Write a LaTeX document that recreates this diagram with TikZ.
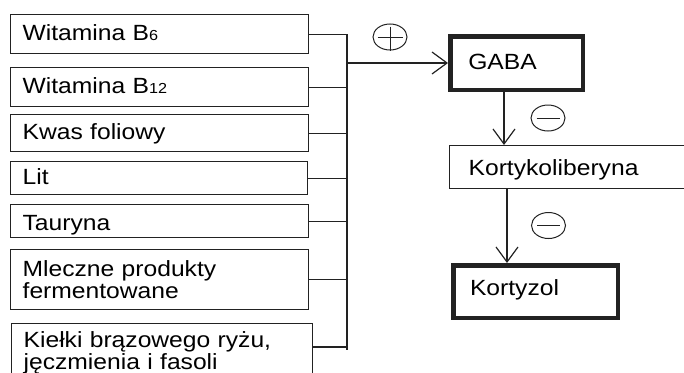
\documentclass[tikz,border=0pt]{standalone}
\usepackage{fontspec}
\setmainfont{Liberation Sans}[FakeStretch=1.12]
\usetikzlibrary{arrows.meta,shapes.geometric}
\newcommand{\boxfont}{\fontsize{22}{22}\selectfont}
\newcommand{\idx}[1]{{\fontsize{14.5}{14.5}\selectfont #1}}
\definecolor{linec}{HTML}{222222}

\begin{document}
\begin{tikzpicture}[x=1pt,y=-1pt,
  frame/.style={draw=linec, line width=1.3pt, anchor=north west, inner ysep=0pt,
                inner xsep=12pt, align=left, font=\boxfont},
  oneline/.style={frame, text height=12pt, text depth=0pt},
  heavy/.style={line width=4.5pt},
  sign/.style={draw=linec, ellipse, line width=1pt, minimum width=34pt,
               minimum height=26pt, inner sep=0pt},
  signbar/.style={draw=linec, line width=1pt},
  flow/.style={draw=linec, line width=1.2pt,
               -{Straight Barb[length=15pt,width=22pt,line width=1.2pt]}},
  wire/.style={draw=linec, line width=1.3pt}]

\useasboundingbox (0,0) rectangle (684,372);
\clip (0,0) rectangle (684,372);

% sources
\node[oneline, text width=274pt, minimum height=39pt] (b1) at (10,14) {Witamina B\idx{6}};
\node[oneline, text width=274pt, minimum height=39pt] (b2) at (10,67) {Witamina B\idx{12}};
\node[oneline, text width=274pt, minimum height=37pt] (b3) at (10,114) {Kwas foliowy};
\node[oneline, text width=273pt, minimum height=33pt] (b4) at (10,161) {Lit};
\node[oneline, text width=274pt, minimum height=33pt, text height=19pt] (b5) at (10,204) {Tauryna};
\node[frame, text width=274pt, minimum height=60pt] (b6) at (10,249) {Mleczne produkty\\fermentowane};
\node[frame, text width=277pt, minimum height=58.7pt] (b7) at (11,323) {Kiełki brązowego ryżu,\\jęczmienia i fasoli};

% chain
\node[oneline, heavy, text width=96.5pt, inner xsep=18pt, minimum height=53.5pt] (gaba) at (448,34) {GABA};
\node[oneline, text width=240pt, inner xsep=19pt, minimum height=43pt, text height=16pt] (korty) at (449,145) {Kortykoliberyna};
\node[oneline, heavy, text width=131pt, inner xsep=16.75pt, minimum height=52.5pt, text height=7pt] (kortyzol) at (451,263) {Kortyzol};

% collecting bus
\coordinate (busbot) at (347,350);
\coordinate (fork) at (347,63);
\coordinate (j7) at (347,347);
\draw[wire] (b1.east) -| (busbot);
\foreach \b in {b2,b3,b4,b5,b6} \draw[wire] (\b.east) -- (\b.east -| busbot);
\draw[wire] (j7 -| b7.east) -- (j7);

% arrows
\coordinate (d1) at (504,0);
\coordinate (d2) at (507,0);
\draw[flow] (fork) -- (gaba.west);
\draw[flow] (gaba.south -| d1) -- (korty.north -| d1);
\draw[flow] (korty.south -| d2) -- (kortyzol.north -| d2);

% signs
\node[sign] (plus) at (390,37) {};
\draw[signbar] ([xshift=-12.5pt]plus.center) -- ([xshift=12.5pt]plus.center)
               ([yshift=-3pt]plus.north) -- (plus.south);
\node[sign] (minusA) at (548,118) {};
\draw[signbar] ([xshift=-11.5pt]minusA.center) -- ([xshift=11.5pt]minusA.center);
\node[sign] (minusB) at (548.5,225.5) {};
\draw[signbar] ([xshift=-11.5pt]minusB.center) -- ([xshift=11.5pt]minusB.center);
\end{tikzpicture}
\end{document}
